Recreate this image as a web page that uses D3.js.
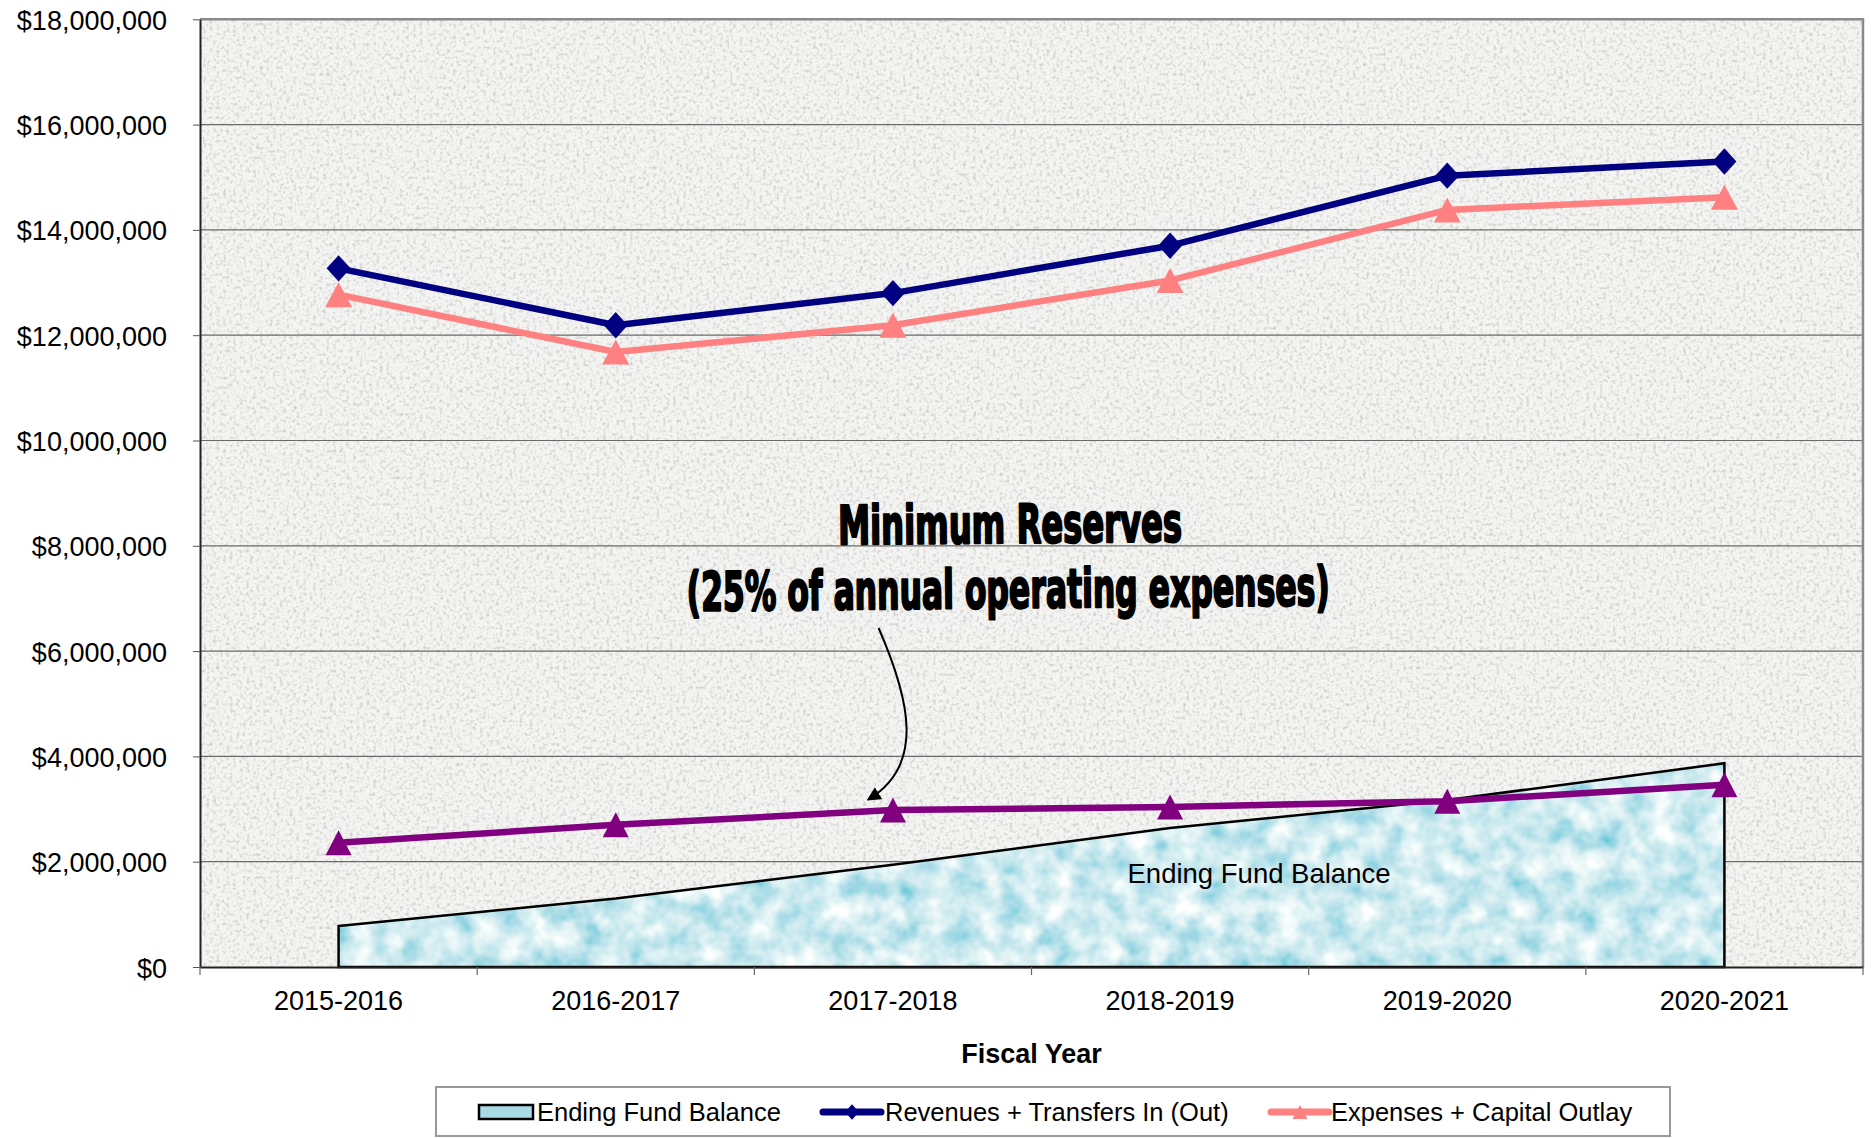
<!DOCTYPE html>
<html>
<head>
<meta charset="utf-8">
<script src="https://cdn.jsdelivr.net/npm/d3@7"></script>
<style>
  body { margin: 0; background: #fff; }
  svg { display: block; font-family: "Liberation Sans", Arial, sans-serif; }
</style>
</head>
<body>
<svg id="chart" width="1871" height="1138"></svg>
<script>
// chart data
const years = ["2015-2016", "2016-2017", "2017-2018", "2018-2019", "2019-2020", "2020-2021"];
const endingFund = [780000, 1300000, 1940000, 2640000, 3170000, 3870000];
const revenues = [13270000, 12190000, 12800000, 13700000, 15030000, 15300000];
const expenses = [12770000, 11680000, 12190000, 13040000, 14380000, 14620000];
const minReserves = [2360000, 2700000, 2980000, 3040000, 3150000, 3460000];
const yTicks = [0, 2000000, 4000000, 6000000, 8000000, 10000000, 12000000, 14000000, 16000000, 18000000];
const legendNames = ["Ending Fund Balance", "Revenues + Transfers In (Out)", "Expenses + Capital Outlay"];

const svg = d3.select("#chart");
const plot = { left: 200, right: 1863, top: 19.3, bottom: 967 };

const x = d3.scaleBand().domain(years).range([plot.left, plot.right]).padding(0);
const cx = (d) => x(d) + x.bandwidth() / 2;
const y = d3.scaleLinear().domain([0, 18000000]).range([plot.bottom, plot.top]);

const defs = svg.append("defs");

// granite-ish background texture
const granite = defs.append("filter").attr("id", "granite")
  .attr("x", 0).attr("y", 0).attr("width", 1).attr("height", 1);
granite.append("feTurbulence").attr("type", "fractalNoise")
  .attr("baseFrequency", 0.3).attr("numOctaves", 2).attr("seed", 4);
granite.append("feColorMatrix").attr("type", "matrix")
  .attr("values", "0 0 0 0 0.6  0 0 0 0 0.6  0 0 0 0 0.59  2.6 0 0 0 -1.25");
granite.append("feComposite").attr("in2", "SourceGraphic").attr("operator", "in");

// watery texture for the area
const water = defs.append("filter").attr("id", "water")
  .attr("x", 0).attr("y", 0).attr("width", 1).attr("height", 1);
water.append("feTurbulence").attr("type", "fractalNoise")
  .attr("baseFrequency", 0.04).attr("numOctaves", 3).attr("seed", 7);
water.append("feColorMatrix").attr("type", "matrix")
  .attr("values", "1.2 0 0 0 0.02  0.6 0 0 0 0.53  0.4 0 0 0 0.67  0 0 0 0 1");
water.append("feComposite").attr("in2", "SourceGraphic").attr("operator", "in");

const areaGen = d3.area()
  .x((d, i) => cx(years[i]))
  .y0(y(0))
  .y1((d) => y(d));

defs.append("clipPath").attr("id", "areaClip")
  .append("path").attr("d", areaGen(endingFund));

defs.append("marker")
  .attr("id", "arrow")
  .attr("viewBox", "0 0 10 10")
  .attr("refX", 8).attr("refY", 5)
  .attr("markerWidth", 7).attr("markerHeight", 7)
  .attr("markerUnits", "strokeWidth")
  .attr("orient", "auto")
  .append("path").attr("d", "M0,0 L10,5 L0,10 z").attr("fill", "#000");

// plot background
svg.append("rect")
  .attr("x", plot.left).attr("y", plot.top)
  .attr("width", plot.right - plot.left).attr("height", plot.bottom - plot.top)
  .attr("fill", "#f4f4f2");
svg.append("rect")
  .attr("x", plot.left).attr("y", plot.top)
  .attr("width", plot.right - plot.left).attr("height", plot.bottom - plot.top)
  .attr("fill", "#fff")
  .attr("filter", "url(#granite)");

// gridlines
svg.append("g")
  .selectAll("line")
  .data(yTicks.slice(1))
  .join("line")
  .attr("x1", plot.left).attr("x2", plot.right)
  .attr("y1", (d) => y(d)).attr("y2", (d) => y(d))
  .attr("stroke", "#6a6a6a")
  .attr("stroke-width", 1.2);

// ending fund balance area
svg.append("path")
  .attr("d", areaGen(endingFund))
  .attr("fill", "#a9dbe4");
svg.append("rect")
  .attr("x", plot.left).attr("y", plot.top)
  .attr("width", plot.right - plot.left).attr("height", plot.bottom - plot.top)
  .attr("fill", "#fff")
  .attr("filter", "url(#water)")
  .attr("clip-path", "url(#areaClip)");
svg.append("path")
  .attr("d", areaGen(endingFund))
  .attr("fill", "none")
  .attr("stroke", "#000")
  .attr("stroke-width", 2.5)
  .attr("stroke-linejoin", "miter");

svg.append("text")
  .attr("x", 1259).attr("y", 883)
  .attr("text-anchor", "middle")
  .style("font-size", "27.5px")
  .text("Ending Fund Balance");

// plot border (top/right)
svg.append("path")
  .attr("d", `M${plot.left},${plot.top} H${plot.right} V${plot.bottom}`)
  .attr("fill", "none")
  .attr("stroke", "#8a8a8a")
  .attr("stroke-width", 2.5);

// y axis
const yAxis = svg.append("g")
  .attr("transform", `translate(${plot.left},0)`)
  .call(d3.axisLeft(y)
    .tickValues(yTicks)
    .tickFormat((d) => "$" + d3.format(",")(d))
    .tickSize(7)
    .tickSizeOuter(0)
    .tickPadding(26));
yAxis.select(".domain").attr("stroke", "#222").attr("stroke-width", 2);
yAxis.selectAll(".tick line").attr("stroke", "#555");
yAxis.selectAll("text")
  .attr("dy", "0.37em")
  .style("font-size", "27px")
  .style("font-family", "'Liberation Sans', Arial, sans-serif")
  .attr("fill", "#000");

// x axis
const xAxis = svg.append("g")
  .attr("transform", `translate(0,${plot.bottom})`)
  .call(d3.axisBottom(x).tickSize(0).tickSizeOuter(0).tickPadding(24));
xAxis.select(".domain").attr("stroke", "#222").attr("stroke-width", 2);
xAxis.selectAll("text")
  .style("font-size", "27px")
  .style("font-family", "'Liberation Sans', Arial, sans-serif")
  .attr("fill", "#000");
xAxis.append("g")
  .selectAll("line")
  .data(years.map((d) => x(d)).concat([plot.right]))
  .join("line")
  .attr("x1", (d) => d).attr("x2", (d) => d)
  .attr("y1", 0).attr("y2", 8)
  .attr("stroke", "#666")
  .attr("stroke-width", 1.2);

svg.append("text")
  .attr("x", (plot.left + plot.right) / 2).attr("y", 1063)
  .attr("text-anchor", "middle")
  .style("font-size", "27px")
  .style("font-weight", "bold")
  .text("Fiscal Year");

// series lines
const lineGen = d3.line().x((d, i) => cx(years[i])).y((d) => y(d));
const diamond = (s) => `M0,${-s * 1.1} L${s},0 L0,${s * 1.1} L${-s},0 Z`;
const triangle = (w, h) => `M0,${-h / 2} L${w / 2},${h / 2} L${-w / 2},${h / 2} Z`;

function drawSeries(values, color, markerPath) {
  svg.append("path")
    .attr("d", lineGen(values))
    .attr("fill", "none")
    .attr("stroke", color)
    .attr("stroke-width", 6.5)
    .attr("stroke-linejoin", "round");
  svg.append("g")
    .selectAll("path")
    .data(values)
    .join("path")
    .attr("transform", (d, i) => `translate(${cx(years[i])},${y(d)})`)
    .attr("d", markerPath)
    .attr("fill", color);
}

drawSeries(minReserves, "#800080", triangle(26, 25));
drawSeries(expenses, "#ff8080", triangle(27, 25));
drawSeries(revenues, "#000080", diamond(12));

// annotation
const note = svg.append("g")
  .attr("transform", "rotate(-0.5, 1010, 570)")
  .style("font-family", "'DejaVu Sans Condensed', 'DejaVu Sans', sans-serif")
  .style("font-weight", "bold")
  .style("font-size", "54px")
  .attr("fill", "#000")
  .attr("stroke", "#000")
  .attr("stroke-width", 2.2)
  .attr("stroke-linejoin", "round");
note.append("text")
  .attr("x", 1010.5).attr("y", 543)
  .attr("text-anchor", "middle")
  .attr("textLength", 344)
  .attr("lengthAdjust", "spacingAndGlyphs")
  .text("Minimum Reserves");
note.append("text")
  .attr("x", 1008).attr("y", 608)
  .attr("text-anchor", "middle")
  .attr("textLength", 643)
  .attr("lengthAdjust", "spacingAndGlyphs")
  .text("(25% of annual operating expenses)");

svg.append("path")
  .attr("d", "M878.6,628 C910,700 925,765 869,799")
  .attr("fill", "none")
  .attr("stroke", "#000")
  .attr("stroke-width", 2)
  .attr("marker-end", "url(#arrow)");

// legend
const legend = svg.append("g");
legend.append("rect")
  .attr("x", 436).attr("y", 1087)
  .attr("width", 1234).attr("height", 49)
  .attr("fill", "#fff")
  .attr("stroke", "#999")
  .attr("stroke-width", 2);

const legendText = [537, 885, 1331];
legend.append("rect")
  .attr("x", 479).attr("y", 1105)
  .attr("width", 54).attr("height", 14)
  .attr("fill", "#a9dbe4")
  .attr("stroke", "#000")
  .attr("stroke-width", 2.5);

const legendLines = [
  { x1: 823, x2: 881, color: "#000080", marker: diamond(7) },
  { x1: 1271, x2: 1329, color: "#ff8080", marker: triangle(15, 14) }
];
legendLines.forEach((l) => {
  legend.append("line")
    .attr("x1", l.x1).attr("x2", l.x2)
    .attr("y1", 1112).attr("y2", 1112)
    .attr("stroke", l.color)
    .attr("stroke-width", 7)
    .attr("stroke-linecap", "round");
  legend.append("path")
    .attr("transform", `translate(${(l.x1 + l.x2) / 2},1112)`)
    .attr("d", l.marker)
    .attr("fill", l.color);
});

legend.selectAll("text.name")
  .data(legendNames)
  .join("text")
  .attr("class", "name")
  .attr("x", (d, i) => legendText[i])
  .attr("y", 1121)
  .style("font-size", "25.5px")
  .text((d) => d);
</script>
</body>
</html>
